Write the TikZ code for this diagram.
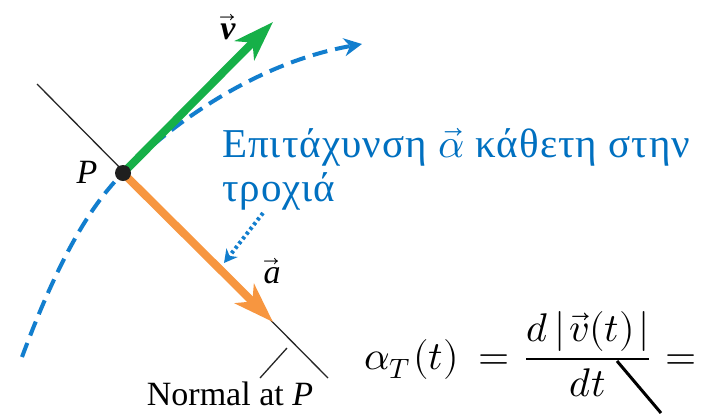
\documentclass[tikz,border=0pt]{standalone}
\usepackage{fontspec}
\usepackage{amsmath}
\usepackage{unicode-math}
\setmainfont{Liberation Serif}
\newfontfamily\grfont[LetterSpace=2.5]{Liberation Serif}
\setmathfont{Latin Modern Math}
\usetikzlibrary{arrows.meta}
\definecolor{vgreen}{RGB}{22,176,72}
\definecolor{aorange}{RGB}{247,150,64}
\definecolor{cblue}{RGB}{18,126,206}
\definecolor{tblue}{RGB}{0,112,192}
\tikzset{
  normalline/.style={black!85, line width=1.3pt},
  vecarrow/.style={line width=8pt, -{Stealth[length=40pt,width=27pt,inset=11pt]}},
  pathcurve/.style={cblue, line width=4pt, dash pattern=on 15pt off 8pt,
     -{Stealth[length=18pt,width=18pt,inset=6pt]}},
  dotarrow/.style={cblue, line width=4pt, dash pattern=on 3pt off 3pt,
     -{Stealth[length=13pt,width=14pt,inset=4pt]}},
  lbl/.style={inner sep=0pt, font=\fontsize{34}{40}\selectfont},
  grtext/.style={inner sep=0pt, anchor=base west, text=tblue, font=\grfont\fontsize{41}{48}\selectfont},
}
\begin{document}
\begin{tikzpicture}[x=1pt,y=-1pt]
\useasboundingbox[fill=white] (0,0) rectangle (704,413);
\coordinate (P) at (123,173);
\coordinate (nA) at (37,84);
\coordinate (nB) at (328,378);
\coordinate (vT) at (273,22);
\coordinate (aT) at (273,322);
\coordinate (cS) at (22,357);
\coordinate (cE) at (362,44);
\coordinate (dS) at (263,213);
\coordinate (dE) at (224,263);
\coordinate (tA) at (260,378);
\coordinate (tB) at (287,348);
\coordinate (fA) at (617,361);
\coordinate (fB) at (661,413);
% normal line
\draw[normalline] (nA) -- (nB);
% trajectory
\draw[pathcurve] (cS) .. controls (60,255) and (92,204) .. (P)
  .. controls (175,120) and (260,62) .. (cE);
% vectors
\draw[vecarrow, vgreen] (P) -- (vT);
\draw[vecarrow, aorange] (P) -- (aT);
\node[circle, fill=black!88, inner sep=0pt, minimum size=16pt] (Pdot) at (P) {};
% dotted pointer
\draw[dotarrow] (dS) -- (dE);
% tick to label
\draw[normalline] (tA) -- (tB);
% labels
\node[lbl] (Plbl) at (87,172) {\itshape P};
\node[lbl] (vlbl) at (228,27) {$\vec{\mbox{\bfseries\itshape v}}$};
\node[lbl] (albl) at (272,271) {$\vec{\mbox{\itshape a}}$};
\node[lbl, anchor=base] (nlbl) at (230,405) {Normal at \textit{P}};
\node[grtext] (g1) at (222,157) {Επιτάχυνση $\vec{\alpha}$ κάθετη στην};
\node[grtext] (g2) at (222,201) {τροχιά};
\node[inner sep=0pt, anchor=base west, font=\fontsize{40}{46}\selectfont] (eq) at (364,369)
  {$\alpha_{T}\mkern1mu(t)\mathrel{\mkern4mu=\mkern2mu}\dfrac{d\,|\mkern1.5mu\vec{v}(t)\mkern1.5mu|}{dt}\mathrel{\mkern2mu=}$};
\draw[black, line width=3pt] (fA) -- (fB);
\end{tikzpicture}
\end{document}
